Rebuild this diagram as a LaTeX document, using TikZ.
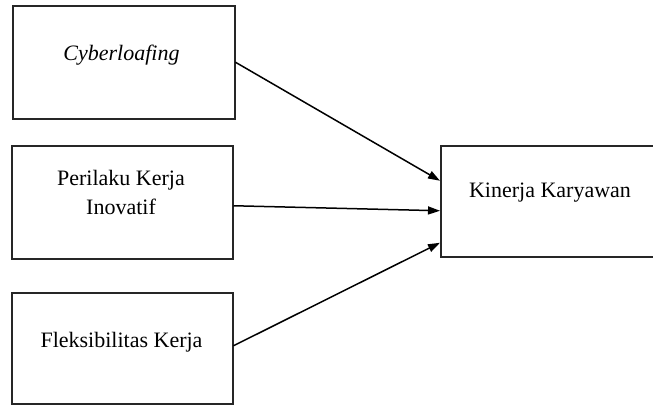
\documentclass[tikz,border=0pt]{standalone}
\usepackage{fontspec}
\setmainfont{Liberation Serif}
\usetikzlibrary{arrows.meta}
\begin{document}
\begin{tikzpicture}[x=1pt,y=-1pt,
  box/.style={draw=black!85,line width=1.5pt,inner sep=0pt,anchor=north west},
  lbl/.style={font=\fontsize{22}{28.5}\selectfont,align=center,inner sep=0pt},
  arr/.style={line width=1.5pt,-{Triangle[length=12pt,width=8pt]}}]
\useasboundingbox (0,0) rectangle (653,405);
\node[box,minimum width=222pt,minimum height=113pt] (b1) at (12,5) {};
\node[box,minimum width=221pt,minimum height=113pt] (b2) at (11,145) {};
\node[box,minimum width=221pt,minimum height=111pt] (b3) at (11,292) {};
\node[box,minimum width=225pt,minimum height=111pt] (k) at (440,145) {};
\node[lbl] (t1) at (121.5,55) {\itshape Cyberloafing};
\node[lbl] (t2) at (121,192.5) {Perilaku Kerja\\Inovatif};
\node[lbl] (t3) at (121.5,342) {Fleksibilitas Kerja};
\node[lbl] (t4) at (550,193) {Kinerja Karyawan};
\draw[arr] (b1.east) -- ([yshift=20.5pt]k.west);
\draw[arr] ([yshift=-3.5pt]b2.east) -- ([yshift=-9.5pt]k.west);
\draw[arr] ([yshift=2.5pt]b3.east) -- ([yshift=-41.5pt]k.west);
\end{tikzpicture}
\end{document}
